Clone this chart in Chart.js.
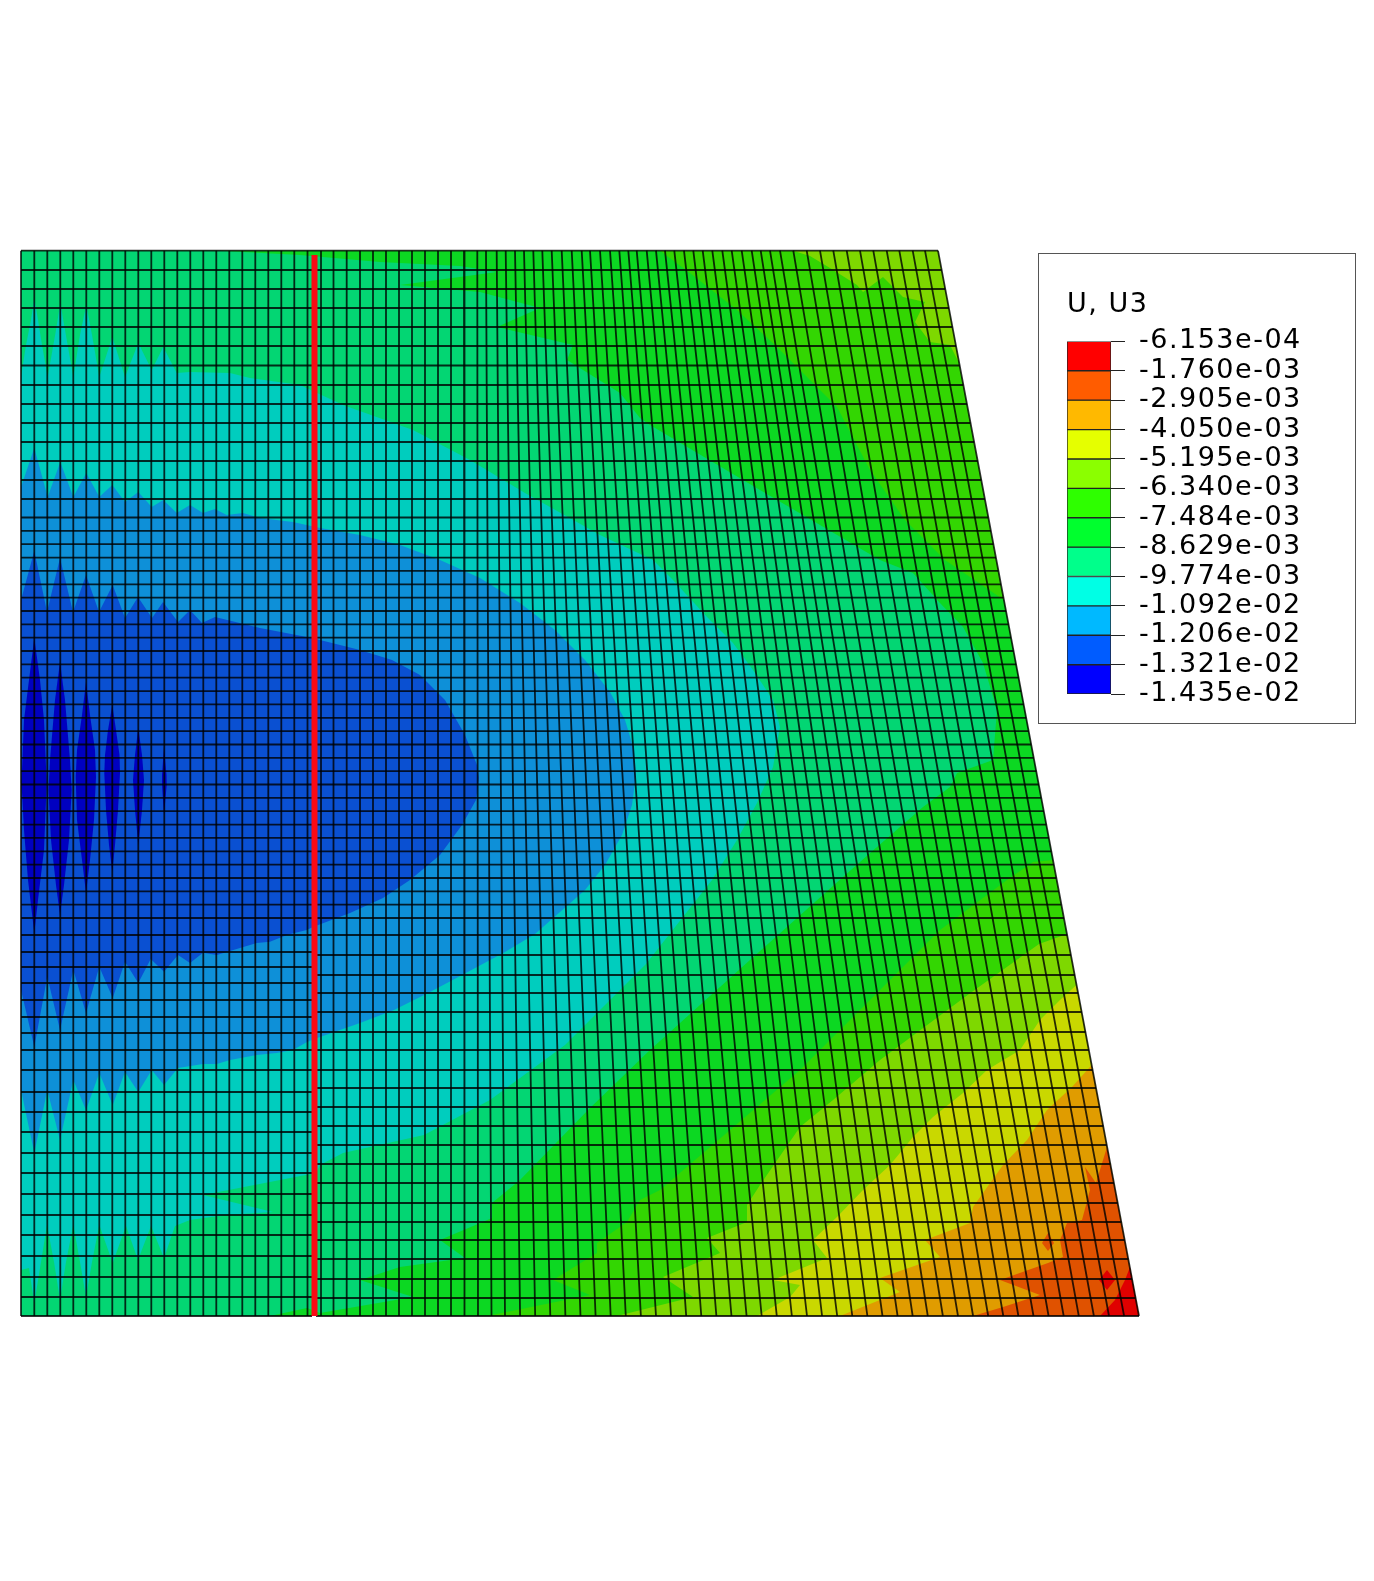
<!DOCTYPE html>
<html>
<head>
<meta charset="utf-8">
<title>U, U3</title>
<script src="https://cdn.jsdelivr.net/npm/chart.js@4"></script>
<style>
  html, body { margin: 0; padding: 0; background: #fff; overflow: hidden; }
  #field { position: absolute; left: 0; top: 0; width: 1374px; height: 1581px; filter: blur(0.7px); }
  #legend-box { position: absolute; left: 1038px; top: 253px; width: 316px; height: 469px; border: 1.5px solid #555; background: #fff; filter: blur(0.5px); }
</style>
</head>
<body>
<canvas id="field" width="1374" height="1581"></canvas>
<div id="legend-box"><canvas id="legend" width="316" height="469"></canvas></div>
<script>
// contour level labels and values, top of the colour bar first
const legendLabels = ["-6.153e-04", "-1.760e-03", "-2.905e-03", "-4.050e-03", "-5.195e-03", "-6.340e-03", "-7.484e-03", "-8.629e-03", "-9.774e-03", "-1.092e-02", "-1.206e-02", "-1.321e-02", "-1.435e-02"];
const legendLevels = [-6.153e-4, -1.76e-3, -2.905e-3, -4.05e-3, -5.195e-3, -6.34e-3, -7.484e-3, -8.629e-3, -9.774e-3, -1.092e-2, -1.206e-2, -1.321e-2, -1.435e-2];
const legendColors = ["#FF0000", "#FF5C00", "#FFB900", "#E5FF00", "#8BFF00", "#2EFF00", "#00FF2E", "#00FF8B", "#00FFE5", "#00B9FF", "#005CFF", "#0000FF"];

// mesh columns: position on the top edge and on the bottom edge
const meshTop = [21, 34.3, 47.3, 60.3, 73.3, 86.3, 99.3, 112.3, 125.3, 138.3, 151.3, 164.3, 177.3, 190.3, 203.3, 216.3, 229.3, 242.3, 255.3, 268.3, 281.3, 294.3, 307.5, 321, 333.5, 346.7, 360, 373, 386, 399, 412, 425, 438, 451,
  464, 477.3, 486, 496.7, 505.7, 515, 524, 533.3, 542.3, 551.7, 561.7, 571.7, 581.7, 590, 600, 610, 619.3, 628.3, 636.7, 646.7, 656, 665, 674.3, 684, 693.3, 702.7, 712.3, 722.3, 731.7, 741.7, 751.7, 760.7, 770, 780, 793.3, 806.7, 820, 833.3, 846.7, 860, 873.3, 886.7, 899.3, 912.7, 925, 938];
const meshBottom = [21, 34.3, 47.3, 60.3, 73.3, 86.3, 99.3, 112.3, 125.3, 138.3, 151.3, 164.3, 177.3, 190.3, 203.3, 216.3, 229.3, 242.3, 255.3, 268.3, 281.3, 294.3, 307.5, 321, 333.5, 346.7, 360, 373, 386, 399, 412, 425, 438, 451,
  464.5, 478, 491.5, 505, 520.1, 535.2, 550.3, 565.4, 580.5, 595.6, 610.7, 625.8, 640.9, 656, 671.1, 686.2, 701.3, 716.4, 731.5, 746.6, 761.7, 776.8, 791.9, 807, 822.1, 837.2, 852.3, 867.4, 882.5, 897.6, 912.7, 927.8, 942.9, 958, 973.1, 988.2, 1003.3, 1018.4, 1033.5, 1048.6, 1063.7, 1078.8, 1093.9, 1109, 1124.1, 1139];

// mesh rows running the full width, with where each one meets the sloped edge
const rowsFull = [250.7, 270, 289, 308, 327, 346, 365.5, 385, 404, 423, 442, 461, 480, 499, 517.5, 530.9, 544.2, 557.6, 570.9, 584.3, 597.6, 611, 624.3, 637.7, 651, 664.4, 677.7, 691.1, 704.4, 717.8, 731.1, 744.5, 757.8, 771.2, 784.5, 797.9, 811.2, 824.6, 837.9, 851.3, 864.6, 878, 891.3, 904.7, 918, 935];
const rowsFullEnd = [938, 941.6, 945.2, 948.8, 952.4, 956, 959.7, 963.3, 966.9, 970.5, 974.1, 977.7, 981.3, 984.8, 988.3, 990.9, 993.4, 995.9, 998.4, 1000.9, 1003.5, 1006, 1008.5, 1011, 1013.5, 1016.1, 1018.6, 1021.1, 1023.6, 1026.1, 1028.6, 1031.2, 1033.7, 1036.2, 1038.7, 1041.2, 1043.8, 1046.3, 1048.8, 1051.3, 1053.8, 1056.4, 1058.9, 1061.4, 1063.9, 1067.1];
// below the fine zone the rows either side of the red line no longer line up
const rowsLeft = [952, 967, 983, 1000, 1017, 1033, 1050, 1070, 1092, 1112, 1132, 1153, 1173, 1194, 1215, 1235, 1256, 1277, 1297, 1316];
const rowsRight = [955, 975, 993, 1012, 1032, 1050, 1070, 1088, 1107, 1126, 1145, 1164, 1183, 1203, 1222, 1240, 1259, 1279, 1298, 1316];
const rowsRightEnd = [1070.9, 1074.7, 1078.1, 1081.6, 1085.4, 1088.8, 1092.6, 1096, 1099.6, 1103.2, 1106.7, 1110.3, 1113.9, 1117.7, 1121.3, 1124.7, 1128.3, 1132, 1135.6, 1139];
const redLine = [[314.5, 255], [314.5, 1316]];

// contour bands, outermost first
const bandBase = [[21, 250.7], [938, 250.7], [1139, 1316], [21, 1316]];
const band6 = [[21, 250.7], [660, 250.7], [690, 273], [737, 310], [777, 347], [800, 370], [837, 407], [870, 470], [905, 520], [945, 560], [1004, 600], [1053, 860], [1033, 862], [1007, 880], [940, 930], [870, 1000], [800, 1070], [730, 1130], [660, 1190], [640, 1200], [627, 1222], [597, 1243], [597, 1253], [553, 1280], [590, 1295], [487, 1316], [21, 1316]];
const band5 = [[21, 250.7], [220, 250.7], [300, 255], [380, 262], [460, 266], [497, 272], [400, 285], [480, 292], [540, 308], [497, 327], [573, 345], [567, 360], [620, 393], [640, 418], [650, 425], [760, 490], [880, 560], [913, 573], [940, 603], [963, 627], [983, 663], [997, 710], [993, 760], [957, 773], [950, 787], [923, 807], [877, 847], [843, 877], [750, 960], [650, 1050], [590, 1108], [520, 1180], [492, 1203], [492, 1218], [440, 1240], [465, 1258], [400, 1267], [360, 1280], [413, 1297], [320, 1313], [307, 1308], [270, 1316], [21, 1316]];
const band4 = [[21, 377], [26, 345], [31, 320], [34.3, 298], [38, 320], [42, 345], [47.7, 377], [56, 330], [60.3, 303], [65, 330], [73.3, 377], [80, 335], [86.3, 305], [92, 335], [99.3, 377], [112.3, 337], [125, 377], [138.3, 343], [151.7, 370], [163.3, 347], [176.7, 373], [190, 372], [230, 373], [250, 378], [300, 385], [343, 405], [413, 430], [470, 460], [525, 493], [600, 535], [653, 560], [673, 580], [707, 617], [733, 643], [753, 670], [773, 700], [780, 727], [773, 767], [757, 803], [737, 840], [712, 880], [646, 964], [565, 1045], [490, 1100], [424, 1135], [343, 1153], [320, 1165], [316, 1173], [203, 1195], [273, 1212], [225, 1215], [190, 1220], [175, 1226], [164, 1258], [151, 1226], [138, 1260], [126, 1226], [112.7, 1263], [99.3, 1225], [92, 1262], [86, 1297], [80, 1262], [73.3, 1225], [66, 1262], [60, 1300], [54, 1262], [47, 1225], [41, 1262], [34.3, 1303], [29, 1268], [21, 1270]];
const band3 = [[21, 487], [34.3, 448], [47.7, 497], [60.3, 462], [73.3, 497], [86.3, 473], [99.3, 497], [112.3, 485], [125, 502], [138.3, 492], [151.7, 507], [163.3, 500], [176.7, 513], [190, 505], [203, 513], [215, 509], [226.7, 515], [243, 513], [260, 518], [293, 522], [320, 528], [360, 535], [400, 545], [440, 560], [480, 578], [520, 603], [555, 630], [585, 660], [610, 692], [625, 720], [634, 750], [636, 775], [632, 805], [622, 835], [605, 865], [585, 890], [560, 912], [535, 934], [505, 952], [464, 974], [430, 992], [394, 1010], [360, 1023], [320, 1037], [307, 1042], [293, 1050], [276.7, 1053], [256.7, 1055], [230, 1060], [216.7, 1064], [203, 1064], [178, 1068], [164, 1085], [151.7, 1070], [138.3, 1092], [125, 1072], [112.7, 1105], [99.3, 1073], [86, 1110], [73.3, 1080], [60, 1140], [47.3, 1090], [34.3, 1153], [21, 1090]];
const band2 = [[21, 600], [34.3, 551], [47, 612], [60, 558], [73, 612], [86, 575], [99, 612], [112.7, 585], [125, 618], [138, 597], [152, 618], [163, 602], [178, 622], [190, 610], [202, 623], [215, 617], [260, 628], [312, 638], [360, 650], [392, 660], [420, 675], [445, 700], [465, 735], [477, 765], [479, 778], [476, 800], [462, 825], [440, 855], [410, 880], [383, 898], [350, 913], [313, 927], [306.7, 930], [286.7, 935], [270, 941.7], [256.7, 943], [230, 951], [216.7, 955], [203, 952.7], [190, 963], [178, 955], [164, 971.7], [150.7, 959], [138.3, 983], [125, 961.7], [112.7, 998], [99.3, 966.7], [86, 1013], [73.3, 970], [60, 1030], [47.3, 976.7], [34.3, 1046.7], [21, 990]];
const lens1 = [[34.3, 638], [40, 680], [44, 720], [46.7, 783], [44, 850], [38, 900], [34.3, 933], [28, 880], [24, 830], [21.5, 783], [24, 720], [29, 680]];
const lens2 = [[60, 662], [65, 700], [70, 760], [71.7, 790], [69, 840], [64, 885], [60, 915], [56, 885], [51, 840], [48.5, 790], [50, 760], [55, 700]];
const lens3 = [[86, 682], [90, 715], [95, 750], [96, 777], [94, 820], [90, 860], [86, 893], [82, 860], [77, 820], [75.7, 777], [77, 750], [82, 715]];
const lens4 = [[112.3, 705], [116, 730], [119.5, 755], [120, 773], [118, 810], [115, 845], [112.3, 872], [109, 845], [106, 810], [104.3, 773], [105, 755], [108, 730]];
const lens5 = [[138.3, 728], [142, 755], [144, 780], [142, 810], [138.3, 845], [135, 810], [133, 780], [135, 755]];
const lens6 = [[164, 747], [166.5, 775], [166.7, 785], [164, 815], [162, 785], [162, 775]];
const band7Corner = [[793, 250.7], [938, 250.7], [959, 363], [950, 345], [930, 342], [915, 322], [925, 302], [903, 297], [883, 277], [863, 292], [857, 285], [830, 268], [810, 256]];
const band8 = [[1067, 934], [1039, 944], [969, 994], [880, 1060], [853, 1083], [833, 1100], [800, 1127], [760, 1185], [747, 1205], [747, 1222], [707, 1238], [720, 1253], [663, 1277], [693, 1297], [617, 1316], [1139, 1316]];
const band9 = [[1076.5, 985], [1060, 1000], [1040, 1020], [1020, 1050], [987, 1070], [963, 1093], [933, 1117], [913, 1137], [890, 1165], [863, 1190], [837, 1217], [813, 1240], [827, 1258], [773, 1280], [800, 1285], [790, 1297], [757, 1316], [1139, 1316]];
const band10 = [[1091.7, 1065], [1072, 1087], [1047, 1110], [1027, 1140], [1003, 1165], [973, 1207], [970, 1223], [925, 1240], [940, 1257], [880, 1278], [900, 1292], [840, 1316], [1139, 1316]];
const band11 = [[1107, 1147], [1096, 1183], [1085, 1167], [1090, 1190], [1082, 1220], [1067, 1223], [1060, 1240], [1063, 1257], [1048, 1263], [1000, 1280], [1040, 1295], [1003, 1307], [973, 1316], [1139, 1316]];
const band11Spot = [[1048, 1233], [1054, 1243], [1048, 1251], [1042, 1243]];
const band12 = [[1130, 1267], [1125, 1280], [1115, 1300], [1100, 1316], [1139, 1316]];
const band12Spot = [[1107, 1270], [1115, 1280], [1107, 1290], [1099, 1280]];

// shaded versions of the legend colours as they appear on the mesh
const fieldBands = [
  [bandBase, "#33D602"],
  [band6, "#0CD822"],
  [band5, "#03D673"],
  [band4, "#00CDBE"],
  [band3, "#0E90D8"],
  [band2, "#0A50D2"],
  [lens1, "#0000C0"], [lens2, "#0000C0"], [lens3, "#0000C0"], [lens4, "#0000C0"], [lens5, "#0000C0"], [lens6, "#0000C0"],
  [band7Corner, "#7ED800"],
  [band8, "#7ED800"],
  [band9, "#C9D800"],
  [band10, "#E09C00"],
  [band11, "#E05200"],
  [band11Spot, "#E05200"],
  [band12, "#E00000"],
  [band12Spot, "#E00000"],
];

function meshColumns() {
  const pts = [];
  meshTop.forEach((x, i) => {
    pts.push([x, rowsFull[0]], [meshBottom[i], 1316], [NaN, NaN]);
  });
  return pts;
}

function meshRows() {
  const pts = [];
  rowsFull.forEach((y, i) => pts.push([21, y], [rowsFullEnd[i], y], [NaN, NaN]));
  rowsLeft.forEach((y) => pts.push([21, y], [312, y], [NaN, NaN]));
  rowsRight.forEach((y, i) => pts.push([316, y], [rowsRightEnd[i], y], [NaN, NaN]));
  return pts;
}

const fieldDatasets = fieldBands.map(([points, color], i) => ({
  data: points,
  showLine: true,
  fill: "shape",
  backgroundColor: color,
  borderWidth: 0,
  pointRadius: 0,
  tension: 0,
  order: 100 - i,
}));

function initField() {
  const ctx = document.getElementById("field").getContext("2d");
  new Chart(ctx, {
    type: "scatter",
    data: {
      datasets: [
        ...fieldDatasets,
        { data: meshColumns(), showLine: true, fill: false, borderColor: "rgba(0, 0, 0, 0.8)", borderWidth: 1.8, pointRadius: 0, spanGaps: false, order: 10 },
        { data: meshRows(), showLine: true, fill: false, borderColor: "rgba(0, 0, 0, 0.8)", borderWidth: 1.8, pointRadius: 0, spanGaps: false, order: 9 },
        { data: redLine, showLine: true, fill: false, borderColor: "#FA0A14", borderWidth: 6, borderCapStyle: "butt", pointRadius: 0, order: 1 },
      ],
    },
    options: {
      responsive: false,
      animation: false,
      layout: { padding: 0 },
      scales: {
        x: { type: "linear", min: 0, max: 1374, display: false },
        y: { type: "linear", min: 0, max: 1581, reverse: true, display: false },
      },
      plugins: {
        legend: { display: false },
        tooltip: { enabled: false },
      },
    },
  });
}

function initLegend() {
  const ctx = document.getElementById("legend").getContext("2d");
  new Chart(ctx, {
    type: "bar",
    plugins: [{
      id: "wideText",
      beforeDraw(chart) {
        chart.ctx.letterSpacing = "1.5px";
      },
    }],
    data: {
      labels: ["U3"],
      datasets: legendColors.map((color, i) => ({
        data: [[legendLevels[i + 1], legendLevels[i]]],
        backgroundColor: color,
        borderColor: "#222",
        borderWidth: 1,
        borderSkipped: false,
        barPercentage: 1,
        categoryPercentage: 1,
        grouped: false,
      })),
    },
    options: {
      responsive: false,
      animation: false,
      layout: { padding: { left: 28, right: 0, top: 0, bottom: 29 } },
      scales: {
        x: { display: false },
        y: {
          position: "right",
          min: -1.435e-2,
          max: -6.153e-4,
          afterBuildTicks(scale) {
            scale.ticks = legendLevels.map((v) => ({ value: v }));
          },
          afterFit(scale) {
            // the bar should end where the reference does, whatever the label height wants
            scale.width = 244;
            scale.paddingBottom = 0;
          },
          ticks: {
            autoSkip: false,
            maxRotation: 0,
            color: "#000",
            padding: 14,
            font: { family: "DejaVu Sans", size: 27 },
            callback: (value, i) => legendLabels[i],
          },
          grid: { drawOnChartArea: false, color: "#222", lineWidth: 1, tickLength: 14 },
          border: { display: false },
        },
      },
      plugins: {
        legend: { display: false },
        tooltip: { enabled: false },
        title: {
          display: true,
          text: "U, U3",
          align: "start",
          color: "#000",
          font: { family: "DejaVu Sans", size: 27, weight: "normal" },
          padding: { top: 35, bottom: 20 },
        },
      },
    },
  });
}

initField();
initLegend();
</script>
</body>
</html>
